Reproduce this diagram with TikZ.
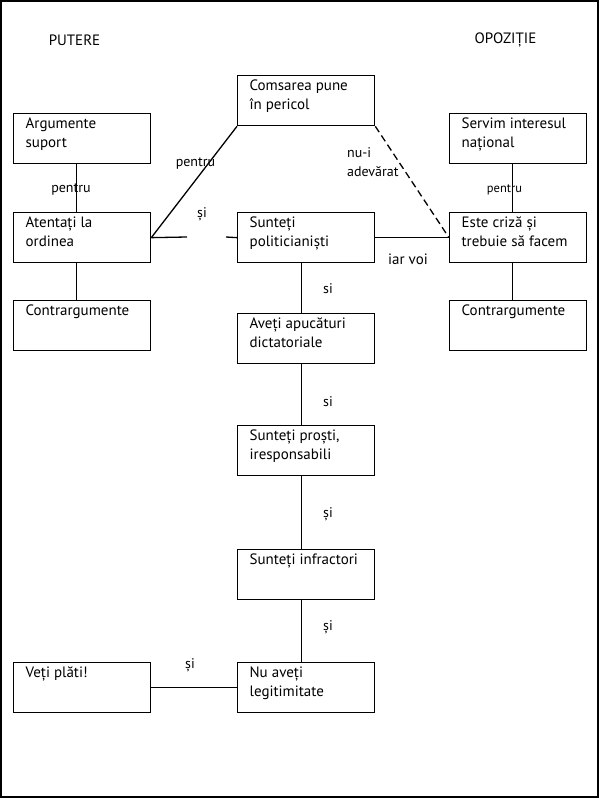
\documentclass[tikz,border=0pt]{standalone}
\usepackage{fontspec}
\setmainfont{PT Sans}
\newcommand\boxfont{\fontsize{15}{19}\selectfont}
\newcommand\lblfont{\fontsize{14}{19}\selectfont}
\newcommand\smallfont{\fontsize{12.5}{14}\selectfont}
\newcommand\bt[1]{\parbox[c][42pt][t]{113pt}{\raggedright #1}}
\begin{document}
\begin{tikzpicture}[x=1pt,y=-1pt,
  box/.style={draw, line width=1.3pt, anchor=north west, inner xsep=12pt, inner ysep=4pt,
    font=\boxfont, minimum width=137pt, minimum height=50pt},
  lbl/.style={font=\lblfont, inner sep=0pt},
  conn/.style={line width=1.3pt},
  dconn/.style={line width=1.3pt, dash pattern=on 7pt off 4pt}]
\useasboundingbox (0,0) rectangle (600,800);
\draw[line width=1.4pt] (1,1) rectangle (598,797);

\node[lbl, font=\boxfont] (put) at (74.5,40) {PUTERE};
\node[lbl, font=\boxfont] (opo) at (505.5,40) {OPOZIȚIE};

\node[box] (arg) at (13,113) {\bt{Argumente\\suport}};
\node[box] (com) at (237,75) {\bt{Comsarea pune\\în pericol}};
\node[box] (ser) at (449,113) {\bt{Servim interesul\\național}};
\node[box] (ate) at (13,212) {\bt{Atentați la\\ordinea}};
\node[box] (sun) at (237,212) {\bt{Sunteți\\politicianiști}};
\node[box] (est) at (449,212) {\bt{Este criză și\\trebuie să facem}};
\node[box] (cl) at (13,300) {\bt{Contrargumente}};
\node[box] (cr) at (449,300) {\bt{Contrargumente}};
\node[box] (ave) at (237,313) {\bt{Aveți apucături\\dictatoriale}};
\node[box] (pro) at (237,425) {\bt{Sunteți proști,\\iresponsabili}};
\node[box] (inf) at (237,549) {\bt{Sunteți infractori}};
\node[box] (leg) at (237,662) {\bt{Nu aveți\\legitimitate}};
\node[box] (vet) at (13,662) {\bt{Veți plăti!}};

\coordinate (gapL) at (187,237);
\coordinate (gapR) at (226,237);

\draw[conn] ([xshift=-6pt]arg.south) -- ([xshift=-6pt]ate.north);
\draw[conn] ([xshift=-6pt]ate.south) -- ([xshift=-6pt]cl.north);
\draw[conn] ([xshift=-6pt]ser.south) -- ([xshift=-6pt]est.north);
\draw[conn] ([xshift=-6pt]est.south) -- ([xshift=-6pt]cr.north);
\draw[conn] (ate.east) -- (com.south west);
\draw[conn] (ate.east) -- (gapL);
\draw[conn] (gapR) -- (sun.west);
\draw[dconn] (com.south east) -- (est.west);
\draw[conn] (sun.east) -- (est.west);
\draw[conn] ([xshift=-4.5pt]sun.south) -- ([xshift=-4.5pt]ave.north);
\draw[conn] ([xshift=-4.5pt]ave.south) -- ([xshift=-4.5pt]pro.north);
\draw[conn] ([xshift=-4.5pt]pro.south) -- ([xshift=-4.5pt]inf.north);
\draw[conn] ([xshift=-4.5pt]inf.south) -- ([xshift=-4.5pt]leg.north);
\draw[conn] (vet.east) -- (leg.west);

\node[lbl] (l1) at (71,190) {pentru};
\node[lbl, font=\smallfont] (l2) at (504.5,190) {pentru};
\node[lbl] (l3) at (195.5,164) {pentru};
\node[lbl] (l4) at (202,214) {și};
\node[lbl, anchor=north west, align=left] (l5) at (347,147) {nu-i\\adevărat};
\node[lbl, font=\boxfont] (l6) at (408,259) {iar voi};
\node[lbl] (l7) at (328,289) {si};
\node[lbl] (l8) at (328,402) {si};
\node[lbl] (l9) at (328,514) {și};
\node[lbl] (l10) at (328,627) {și};
\node[lbl] (l11) at (190,665) {și};
\end{tikzpicture}
\end{document}
